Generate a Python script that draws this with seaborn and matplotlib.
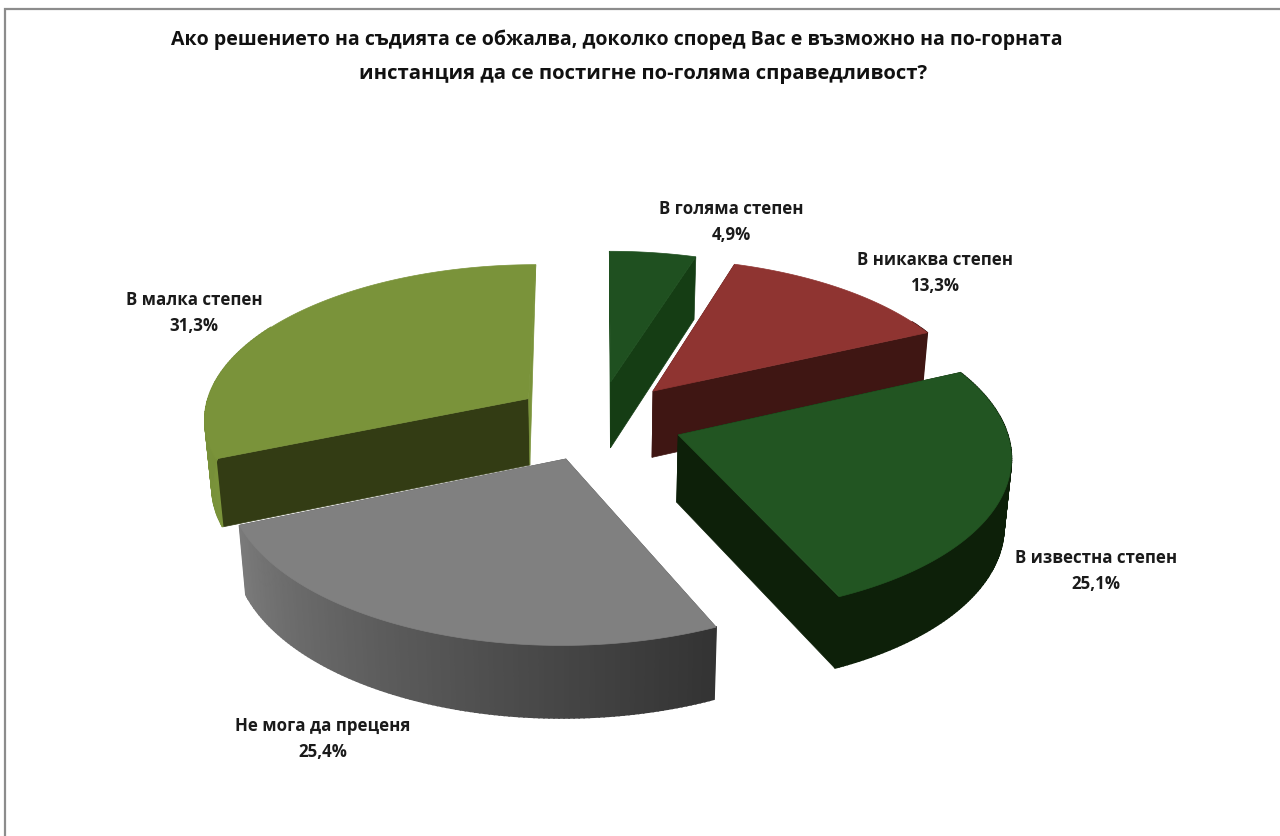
import matplotlib
matplotlib.use('Agg')
import matplotlib.pyplot as plt
from matplotlib.patches import Polygon
import numpy as np
import seaborn as sns

sns.set_theme(style='white')
plt.rcParams['font.family'] = ['Open Sans', 'DejaVu Sans']

title_lines = ['Ако решението на съдията се обжалва, доколко според Вас е възможно на по-горната',
               'инстанция да се постигне по-голяма справедливост?']
categories = ['В голяма степен', 'В никаква степен', 'В известна степен',
              'Не мога да преценя', 'В малка степен']
values = [4.9, 13.3, 25.1, 25.4, 31.3]
value_labels = ['4,9%', '13,3%', '25,1%', '25,4%', '31,3%']

top_colors = ['#1f5020', '#8f3431', '#225522', '#808080', '#7a933a']
cut_colors = ['#153d14', '#3f1613', '#0d2009', '#555555', '#333c14']
wall_from = ['#153d14', '#3f1613', '#0d2009', '#333333', '#7a933a']
wall_to = ['#153d14', '#3f1613', '#0d2009', '#7a7a7a', '#6a8232']

# label anchors in pixels (centre of the two line block)
label_x = [731, 935, 1096, 323, 194]
label_y = [222, 273, 571, 739, 313]

# projection of the tilted pie, fitted to the picture
cx, cy = 598, 421.5
fx, fy = 326, 154.6
persp = 0.118
explode = 0.26
depth = 67
shrink = 0.982
start = 0.0


def project(X, Y, bottom=False):
    s = 1 / (1 + persp * Y)
    px = cx + fx * X * s
    py = cy - fy * Y * s
    if bottom:
        px = cx + (px - cx) * shrink
        py = py + depth * np.sqrt(s)
    return px, py


fig = plt.figure(figsize=(12.8, 8.37), dpi=100)
ax = fig.add_axes([0, 0, 1, 1])
ax.set_xlim(0, 1280)
ax.set_ylim(837, 0)
ax.axis('off')

# chart frame, only top and left are inside the picture
ax.plot([5, 5, 1280], [837, 10, 10], color='#8c8c8c', lw=1.6, solid_joinstyle='miter')

edges = np.cumsum([0] + values) / sum(values) * 360 + start
slices = []
for i in range(len(values)):
    a0, a1 = np.radians(edges[i]), np.radians(edges[i + 1])
    mid = (a0 + a1) / 2
    slices.append((explode * np.cos(mid), i, a0, a1, mid))

# far slices first, near ones paint over them
for oy, i, a0, a1, mid in sorted(slices, reverse=True):
    ox = explode * np.sin(mid)
    t = np.linspace(a0, a1, 120)
    rim_x, rim_y = ox + np.sin(t), oy + np.cos(t)

    # cut faces, the ones pointing away only show as a sliver
    for a in (a0, a1):
        ex, ey = ox + np.sin(a), oy + np.cos(a)
        if np.cos(a) > 0.98:
            p = [project(ox, oy), project(ex, ey), project(ox, oy, True)]
            col = top_colors[i]
        else:
            p = [project(ox, oy), project(ex, ey), project(ex, ey, True), project(ox, oy, True)]
            col = cut_colors[i]
        ax.add_patch(Polygon(p, closed=True, fc=col, ec=col, lw=0.5, zorder=2))

    # outer wall as thin shaded strips
    shades = sns.blend_palette([wall_from[i], wall_to[i]], n_colors=len(t) - 1)
    for k in range(len(t) - 1):
        if rim_y[k] > oy + 0.5:
            continue
        p = [project(rim_x[k], rim_y[k]), project(rim_x[k + 1], rim_y[k + 1]),
             project(rim_x[k + 1], rim_y[k + 1], True), project(rim_x[k], rim_y[k], True)]
        ax.add_patch(Polygon(p, closed=True, fc=shades[k], ec=shades[k], lw=1.2, zorder=2))

    # top face
    top_x, top_y = project(np.r_[ox, rim_x], np.r_[oy, rim_y])
    ax.add_patch(Polygon(np.c_[top_x, top_y], closed=True, fc=top_colors[i],
                         ec=top_colors[i], lw=0.5, zorder=2))

    ax.text(label_x[i], label_y[i], categories[i] + '\n' + value_labels[i], ha='center', va='center',
            fontsize=12.2, fontweight='bold', color='#1a1a1a', linespacing=1.6, zorder=3)

ax.text(617, 40, title_lines[0], ha='center', va='center', fontsize=14.05, fontweight='bold', color='#111111')
ax.text(643, 74, title_lines[1], ha='center', va='center', fontsize=14.6, fontweight='bold', color='#111111')

fig.savefig('out.png', dpi=100)
